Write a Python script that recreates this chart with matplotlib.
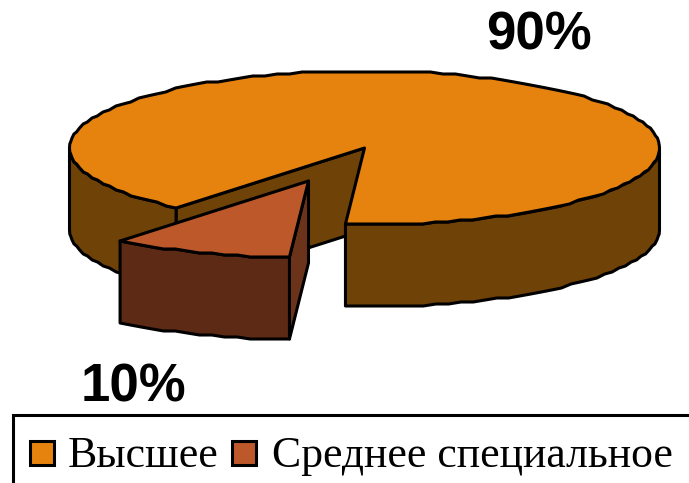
#!/usr/bin/env python

"""
exploded 3-D pie chart, drawn as polygons on a pixel-sized axes
"""

import matplotlib
matplotlib.use('Agg')
import matplotlib.pyplot as plt
from matplotlib.patches import Polygon, Rectangle
import numpy as np

CATEGORIES = ['Высшее', 'Среднее специальное']
SHARES = [90, 10]
SHARE_LABELS = ['90%', '10%']

TOP_COLORS = ['#E6830F', '#BD582B']
WALL_COLORS = ['#6F4208', '#5C2A15']
CUT_COLORS = ['#6F4208', '#6B3319']

CX, CY = 364.5, 148
RX, RY = 295, 77
DEPTH = 82
START = 93.7   # screen angle where the small slice begins
EXPLODE = (-56, 33)
GRID = 2.0     # the original outline is coarse, snap the arcs


def arc(t0, t1, dx=0, dy=0):
    """
    points along the ellipse between two angles, in degrees
    """
    n = max(int(abs(t1 - t0) / 2.5), 2)
    t = np.radians(np.linspace(t0, t1, n + 1))
    x = CX + RX * np.cos(t)
    y = np.round((CY + RY * np.sin(t)) / GRID) * GRID
    return np.column_stack([x + dx, y + dy])


def poly(ax, pts, color):
    ax.add_patch(Polygon(pts, closed=True, facecolor=color, edgecolor='k', lw=2.2, joinstyle='round'))


def wall(ax, t0, t1, color, dx=0, dy=0):
    """
    outer wall below the rim between two angles
    """
    rim = arc(t0, t1, dx, dy)
    poly(ax, np.vstack([rim, rim[::-1] + [0, DEPTH]]), color)


def radial_face(ax, t, color, dx=0, dy=0):
    """
    flat cut face from the centre to the rim at angle t
    """
    edge = arc(t, t, dx, dy)[0]
    apex = np.array([CX + dx, CY + dy])
    poly(ax, [apex, edge, edge + [0, DEPTH], apex + [0, DEPTH]], color)


def main():
    fig = plt.figure(figsize=(6.89, 4.83), dpi=100)
    ax = fig.add_axes([0, 0, 1, 1])
    ax.set_xlim(0, 689)
    ax.set_ylim(483, 0)
    ax.axis('off')

    sweep = 360.0 * SHARES[1] / sum(SHARES)
    stop = START + sweep

    # big slice, back to front
    radial_face(ax, stop, WALL_COLORS[0])
    wall(ax, stop, 180, WALL_COLORS[0])
    wall(ax, 0, START, WALL_COLORS[0])
    rim = arc(stop, START + 360)
    poly(ax, np.vstack([[CX, CY], rim]), TOP_COLORS[0])

    # small slice pulled out
    radial_face(ax, START, CUT_COLORS[1], *EXPLODE)
    wall(ax, START, stop, WALL_COLORS[1], *EXPLODE)
    rim = arc(START, stop, *EXPLODE)
    poly(ax, np.vstack([[CX + EXPLODE[0], CY + EXPLODE[1]], rim]), TOP_COLORS[1])

    ###### value labels ######
    sans = dict(family='Liberation Sans', fontsize=38, fontweight='bold', color='k', va='center', ha='center')
    ax.text(539, 36, SHARE_LABELS[0], **sans)
    ax.text(133, 387, SHARE_LABELS[1], **sans)

    ###### legend, its box runs off the picture ######
    ax.add_patch(Rectangle((13, 415), 700, 100, facecolor='w', edgecolor='k', lw=2.2))
    swatch_x = [30, 232]
    text_x = [68, 272]
    for i, name in enumerate(CATEGORIES):
        ax.add_patch(Rectangle((swatch_x[i], 441), 24, 24, facecolor=TOP_COLORS[i], edgecolor='k', lw=2.2))
        ax.text(text_x[i], 467, name, family='Liberation Serif', fontsize=31.5, color='k', va='baseline', ha='left')

    fig.savefig('out.png', dpi=100, facecolor='w')


if __name__ == "__main__":
    main()
